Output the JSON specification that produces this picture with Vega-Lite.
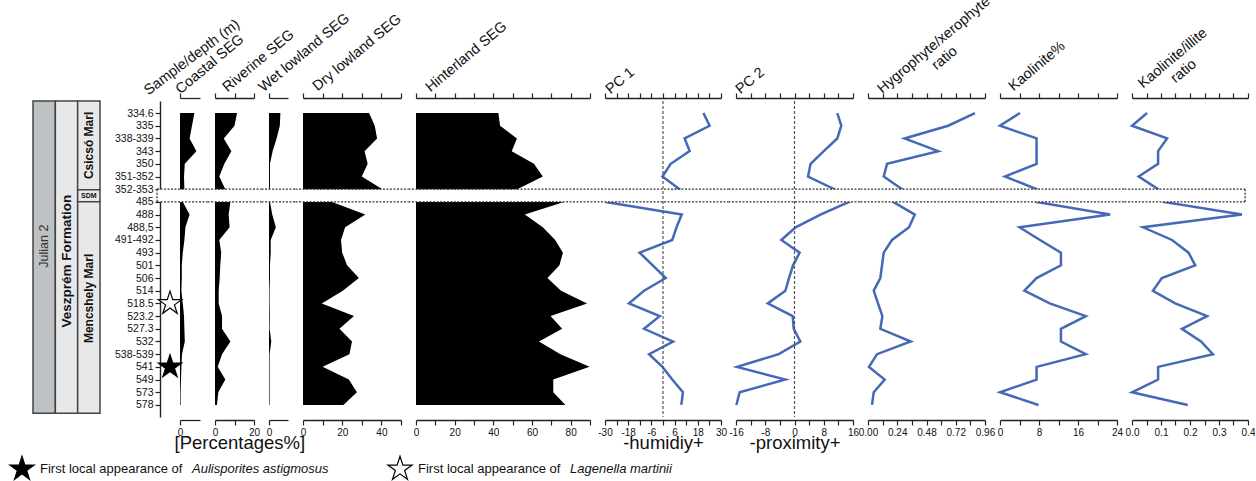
{
  "$schema": "https://vega.github.io/schema/vega-lite/v6.json",
  "padding": {"left": 7, "top": -7, "right": 0, "bottom": 0},
  "background": "white",
  "datasets": {
    "samples": [
      {"i": 0, "sample": "334.6", "coastal": 7.2, "riverine": 11.3, "wet": 6.0, "dry": 33.7, "hinterland": 42.6, "pc1": 20.9, "pc2": 11.7, "hygro": 0.878, "kaol": 4.1, "ki": 0.052},
      {"i": 1, "sample": "335", "coastal": 6.0, "riverine": 10.0, "wet": 5.7, "dry": 36.6, "hinterland": 43.5, "pc1": 24.1, "pc2": 12.8, "hygro": 0.658, "kaol": 0.0, "ki": 0.0},
      {"i": 2, "sample": "338-339", "coastal": 4.8, "riverine": 4.5, "wet": 4.0, "dry": 37.8, "hinterland": 52.2, "pc1": 11.2, "pc2": 11.7, "hygro": 0.30, "kaol": 7.5, "ki": 0.121},
      {"i": 3, "sample": "343", "coastal": 8.2, "riverine": 8.4, "wet": 1.9, "dry": 31.4, "hinterland": 49.5, "pc1": 13.8, "pc2": 8.0, "hygro": 0.576, "kaol": 7.5, "ki": 0.09},
      {"i": 4, "sample": "350", "coastal": 2.4, "riverine": 4.8, "wet": 0.5, "dry": 33.0, "hinterland": 61.0, "pc1": 4.0, "pc2": 4.4, "hygro": 0.156, "kaol": 7.5, "ki": 0.09},
      {"i": 5, "sample": "351-352", "coastal": 2.0, "riverine": 2.2, "wet": 0.5, "dry": 30.0, "hinterland": 65.6, "pc1": -0.3, "pc2": 3.7, "hygro": 0.129, "kaol": 1.0, "ki": 0.023},
      {"i": 6, "sample": "352-353", "coastal": 2.2, "riverine": 5.3, "wet": 0.5, "dry": 40.5, "hinterland": 52.4, "pc1": 8.6, "pc2": 10.9, "hygro": 0.28, "kaol": 7.5, "ki": 0.09},
      {"i": 7, "sample": "485", "coastal": 1.4, "riverine": 7.9, "wet": 0.5, "dry": 14.8, "hinterland": 76.5, "pc1": -29.7, "pc2": 14.9, "hygro": 0.206, "kaol": 7.5, "ki": 0.109},
      {"i": 8, "sample": "488", "coastal": 4.8, "riverine": 7.0, "wet": 1.7, "dry": 31.8, "hinterland": 56.3, "pc1": 9.7, "pc2": 7.1, "hygro": 0.384, "kaol": 22.6, "ki": 0.379},
      {"i": 9, "sample": "488,5", "coastal": 2.7, "riverine": 7.5, "wet": 3.6, "dry": 21.5, "hinterland": 65.6, "pc1": 7.0, "pc2": 0.3, "hygro": 0.337, "kaol": 4.0, "ki": 0.038},
      {"i": 10, "sample": "491-492", "coastal": 2.2, "riverine": 2.2, "wet": 0.9, "dry": 19.4, "hinterland": 72.0, "pc1": 4.8, "pc2": -3.6, "hygro": 0.197, "kaol": 8.2, "ki": 0.138},
      {"i": 11, "sample": "493", "coastal": 1.4, "riverine": 3.2, "wet": 0.9, "dry": 20.0, "hinterland": 76.0, "pc1": -12.1, "pc2": 1.4, "hygro": 0.129, "kaol": 12.5, "ki": 0.195},
      {"i": 12, "sample": "501", "coastal": 0.9, "riverine": 2.7, "wet": 0.5, "dry": 22.5, "hinterland": 74.2, "pc1": -5.3, "pc2": -0.4, "hygro": 0.115, "kaol": 12.5, "ki": 0.218},
      {"i": 13, "sample": "506", "coastal": 0.9, "riverine": 2.4, "wet": 0.5, "dry": 28.5, "hinterland": 68.0, "pc1": 1.4, "pc2": -1.5, "hygro": 0.101, "kaol": 7.5, "ki": 0.103},
      {"i": 14, "sample": "514", "coastal": 0.7, "riverine": 1.9, "wet": 0.3, "dry": 20.3, "hinterland": 75.0, "pc1": -9.8, "pc2": -2.5, "hygro": 0.047, "kaol": 5.0, "ki": 0.072},
      {"i": 15, "sample": "518.5", "coastal": 1.4, "riverine": 1.9, "wet": 0.3, "dry": 9.6, "hinterland": 88.5, "pc1": -17.6, "pc2": -7.3, "hygro": 0.082, "kaol": 10.2, "ki": 0.149},
      {"i": 16, "sample": "523.2", "coastal": 2.0, "riverine": 3.6, "wet": 0.4, "dry": 26.0, "hinterland": 69.6, "pc1": -1.7, "pc2": -0.5, "hygro": 0.118, "kaol": 17.6, "ki": 0.259},
      {"i": 17, "sample": "527.3", "coastal": 2.2, "riverine": 3.6, "wet": 0.3, "dry": 18.6, "hinterland": 75.6, "pc1": -9.8, "pc2": -0.2, "hygro": 0.101, "kaol": 12.5, "ki": 0.172},
      {"i": 18, "sample": "532", "coastal": 2.4, "riverine": 7.9, "wet": 1.2, "dry": 25.0, "hinterland": 63.6, "pc1": 5.2, "pc2": 1.6, "hygro": 0.351, "kaol": 12.5, "ki": 0.238},
      {"i": 19, "sample": "538-539", "coastal": 1.0, "riverine": 3.6, "wet": 0.3, "dry": 23.7, "hinterland": 74.7, "pc1": -7.2, "pc2": -4.3, "hygro": 0.074, "kaol": 17.6, "ki": 0.279},
      {"i": 20, "sample": "541", "coastal": 0.7, "riverine": 1.4, "wet": 0.3, "dry": 10.0, "hinterland": 89.8, "pc1": -0.3, "pc2": -15.7, "hygro": 0.008, "kaol": 7.5, "ki": 0.09},
      {"i": 21, "sample": "549", "coastal": 0.5, "riverine": 5.3, "wet": 0.3, "dry": 23.4, "hinterland": 71.0, "pc1": 4.8, "pc2": -2.5, "hygro": 0.137, "kaol": 7.5, "ki": 0.09},
      {"i": 22, "sample": "573", "coastal": 0.3, "riverine": 1.7, "wet": 0.3, "dry": 27.5, "hinterland": 71.0, "pc1": 10.3, "pc2": -15.0, "hygro": 0.047, "kaol": 0.0, "ki": 0.0},
      {"i": 23, "sample": "578", "coastal": 0.3, "riverine": 1.0, "wet": 0.3, "dry": 20.6, "hinterland": 77.3, "pc1": 9.5, "pc2": -15.9, "hygro": 0.033, "kaol": 7.9, "ki": 0.192}
    ],
    "strat": [
      {"level": "Stage", "name": "Julian 2", "top": -0.95, "bottom": 23.65},
      {"level": "Formation", "name": "Veszprém Formation", "top": -0.95, "bottom": 23.65},
      {"level": "Member", "name": "Csicsó Marl", "top": -0.95, "bottom": 6.05},
      {"level": "Member", "name": "SDM", "top": 6.05, "bottom": 6.98},
      {"level": "Member", "name": "Mencshely Marl", "top": 6.98, "bottom": 23.65}
    ],
    "stars": [
      {"sample": "518.5", "i": 15, "symbol": "open"},
      {"sample": "541", "i": 20, "symbol": "filled"}
    ],
    "gap": [{"from": "352-353", "to": "485"}],
    "legend": [
      {"symbol": "filled", "label": "First local appearance of", "species": "Aulisporites astigmosus"},
      {"symbol": "open", "label": "First local appearance of", "species": "Lagenella martinii"}
    ]
  },
  "data": {"name": "samples"},
  "vconcat": [
    {
      "bounds": "flush",
      "spacing": 15,
      "hconcat": [
        {
          "width": 112, "height": 316,
          "data": {"name": "strat"},
          "layer": [
            {
              "mark": {"type": "rect", "stroke": "#444", "strokeWidth": 1.5},
              "encoding": {
                "x": {"field": "level", "type": "nominal", "sort": ["Stage", "Formation", "Member"], "scale": {"type": "band", "range": [0, 67], "paddingInner": 0, "paddingOuter": 0}, "axis": null},
                "y": {"field": "top", "type": "quantitative", "scale": {"domain": [-0.95, 23.95], "reverse": true, "nice": false, "zero": false}, "axis": {"domain": false, "ticks": false, "labels": false, "title": "Veszprém-1 section", "titleFontSize": 17, "titlePadding": 8, "titleColor": "#111"}},
                "y2": {"field": "bottom"},
                "fill": {"field": "level", "type": "nominal", "scale": {"domain": ["Stage", "Formation", "Member"], "range": ["#bfc2c5", "#e7e8e9", "#e7e8e9"]}, "legend": null}
              }
            },
            {
              "transform": [{"filter": "datum.level === 'Stage'"}, {"calculate": "(datum.top + datum.bottom) / 2", "as": "mid"}],
              "mark": {"type": "text", "angle": 270, "fontSize": 12.5, "color": "#333", "dx": 11},
              "encoding": {
                "x": {"field": "level", "type": "nominal", "sort": ["Stage", "Formation", "Member"], "scale": {"type": "band", "range": [0, 67], "paddingInner": 0, "paddingOuter": 0}, "axis": null},
                "y": {"field": "mid", "type": "quantitative", "scale": {"domain": [-0.95, 23.95], "reverse": true, "nice": false, "zero": false}, "axis": null},
                "text": {"field": "name"}
              }
            },
            {
              "transform": [{"filter": "datum.level === 'Formation'"}, {"calculate": "(datum.top + datum.bottom) / 2", "as": "mid"}],
              "mark": {"type": "text", "angle": 270, "fontSize": 13.5, "fontWeight": "bold", "color": "#111", "dx": -4},
              "encoding": {
                "x": {"field": "level", "type": "nominal", "sort": ["Stage", "Formation", "Member"], "scale": {"type": "band", "range": [0, 67], "paddingInner": 0, "paddingOuter": 0}, "axis": null},
                "y": {"field": "mid", "type": "quantitative", "scale": {"domain": [-0.95, 23.95], "reverse": true, "nice": false, "zero": false}, "axis": null},
                "text": {"field": "name"}
              }
            },
            {
              "transform": [{"filter": "datum.name === 'Csicsó Marl'"}, {"calculate": "(datum.top + datum.bottom) / 2", "as": "mid"}],
              "mark": {"type": "text", "angle": 270, "fontSize": 12, "fontWeight": "bold", "color": "#111", "dx": 0},
              "encoding": {
                "x": {"field": "level", "type": "nominal", "sort": ["Stage", "Formation", "Member"], "scale": {"type": "band", "range": [0, 67], "paddingInner": 0, "paddingOuter": 0}, "axis": null},
                "y": {"field": "mid", "type": "quantitative", "scale": {"domain": [-0.95, 23.95], "reverse": true, "nice": false, "zero": false}, "axis": null},
                "text": {"field": "name"}
              }
            },
            {
              "transform": [{"filter": "datum.name === 'Mencshely Marl'"}, {"calculate": "(datum.top + datum.bottom) / 2", "as": "mid"}],
              "mark": {"type": "text", "angle": 270, "fontSize": 12, "fontWeight": "bold", "color": "#111", "dx": 9},
              "encoding": {
                "x": {"field": "level", "type": "nominal", "sort": ["Stage", "Formation", "Member"], "scale": {"type": "band", "range": [0, 67], "paddingInner": 0, "paddingOuter": 0}, "axis": null},
                "y": {"field": "mid", "type": "quantitative", "scale": {"domain": [-0.95, 23.95], "reverse": true, "nice": false, "zero": false}, "axis": null},
                "text": {"field": "name"}
              }
            },
            {
              "transform": [{"filter": "datum.name === 'SDM'"}, {"calculate": "(datum.top + datum.bottom) / 2", "as": "mid"}],
              "mark": {"type": "text", "fontSize": 7, "fontWeight": "bold", "color": "#111", "baseline": "middle"},
              "encoding": {
                "x": {"field": "level", "type": "nominal", "sort": ["Stage", "Formation", "Member"], "scale": {"type": "band", "range": [0, 67], "paddingInner": 0, "paddingOuter": 0}, "axis": null},
                "y": {"field": "mid", "type": "quantitative", "scale": {"domain": [-0.95, 23.95], "reverse": true, "nice": false, "zero": false}, "axis": null},
                "text": {"field": "name"}
              }
            }
          ]
        },
        {
          "width": 5, "height": 316,
          "mark": {"type": "tick", "opacity": 0},
          "encoding": {
            "y": {"field": "sample", "type": "ordinal", "sort": null, "scale": {"type": "point", "padding": 0.95}, "axis": {"title": null, "labelFontSize": 10.5, "labelPadding": 2, "tickSize": 5, "domainWidth": 1.4}},
            "x": {"datum": 0, "type": "quantitative", "scale": {"domain": [0, 1]}, "axis": {"orient": "top", "offset": 3, "domain": false, "ticks": false, "labels": false, "title": "Sample/depth (m)", "titleAngle": -37, "titleAlign": "left", "titleBaseline": "alphabetic", "titleFontSize": 14.5, "titleLimit": 400, "titleX": -12, "titleY": -3}}
          }
        },
        {
          "width": 20, "height": 316,
          "layer": [
            {"mark": {"type": "area", "orient": "horizontal", "color": "#000"},
             "encoding": {
               "y": {"field": "i", "type": "quantitative", "scale": {"domain": [-0.95, 23.95], "reverse": true, "nice": false, "zero": false}, "axis": {"labels": false, "ticks": false, "title": null, "domainWidth": 1.4}},
               "x": {"field": "coastal", "type": "quantitative", "scale": {"domain": [0, 10], "nice": false, "zero": false}, "axis": {"orient": "bottom", "offset": 3, "values": [0], "labelExpr": "'' + datum.value", "title": "[Percentages%]", "titleFontSize": 18.5, "titleX": -6, "titleY": 28, "titleAlign": "left", "titleBaseline": "alphabetic", "titleLimit": 400}}
             }},
            {"data": {"name": "gap"}, "mark": {"type": "rect", "fill": "white"},
             "encoding": {
               "y": {"datum": 6, "type": "quantitative", "scale": {"domain": [-0.95, 23.95], "reverse": true, "nice": false, "zero": false}, "axis": null},
               "y2": {"datum": 7},
               "x": {"datum": -11.5, "type": "quantitative", "scale": {"domain": [0, 10], "nice": false, "zero": false}, "axis": {"orient": "top", "offset": 3, "values": [0], "labels": false, "title": "Coastal SEG", "titleAngle": -40, "titleAlign": "left", "titleBaseline": "alphabetic", "titleFontSize": 14.5, "titleLimit": 400, "titleX": 0, "titleY": -4}},
               "x2": {"datum": 13.75}
             }},
            {"data": {"name": "gap"}, "mark": {"type": "rule", "color": "#333", "strokeWidth": 1.3, "strokeDash": [2, 1.5]},
             "encoding": {
               "y": {"datum": 6, "type": "quantitative", "scale": {"domain": [-0.95, 23.95], "reverse": true, "nice": false, "zero": false}, "axis": null},
               "x": {"datum": -11.5, "type": "quantitative", "scale": {"domain": [0, 10], "nice": false, "zero": false}, "axis": null},
               "x2": {"datum": 13.75}
             }},
            {"data": {"name": "gap"}, "mark": {"type": "rule", "color": "#333", "strokeWidth": 1.3, "strokeDash": [2, 1.5]},
             "encoding": {
               "y": {"datum": 7, "type": "quantitative", "scale": {"domain": [-0.95, 23.95], "reverse": true, "nice": false, "zero": false}, "axis": null},
               "x": {"datum": -11.5, "type": "quantitative", "scale": {"domain": [0, 10], "nice": false, "zero": false}, "axis": null},
               "x2": {"datum": 13.75}
             }},
            {"data": {"name": "gap"}, "mark": {"type": "rule", "color": "#333", "strokeWidth": 1.3, "strokeDash": [2, 1.5]},
             "encoding": {
               "x": {"datum": -11.5, "type": "quantitative", "scale": {"domain": [0, 10], "nice": false, "zero": false}, "axis": null},
               "y": {"datum": 6, "type": "quantitative", "scale": {"domain": [-0.95, 23.95], "reverse": true, "nice": false, "zero": false}, "axis": null},
               "y2": {"datum": 7}
             }},
            {"data": {"name": "stars"},
             "transform": [{"filter": "datum.symbol === 'filled'"}],
             "mark": {"type": "point", "shape": "M0,-1L0.2245,-0.309L0.951,-0.309L0.363,0.118L0.588,0.809L0,0.382L-0.588,0.809L-0.363,0.118L-0.951,-0.309L-0.2245,-0.309Z", "size": 600, "stroke": "#000", "strokeWidth": 1.2, "fill": "#000", "filled": true, "opacity": 1, "fillOpacity": 1, "strokeOpacity": 1},
             "encoding": {
               "x": {"datum": -5, "type": "quantitative", "scale": {"domain": [0, 10], "nice": false, "zero": false}, "axis": null},
               "y": {"field": "i", "type": "quantitative", "scale": {"domain": [-0.95, 23.95], "reverse": true, "nice": false, "zero": false}, "axis": null}
             }},
            {"data": {"name": "stars"},
             "transform": [{"filter": "datum.symbol === 'open'"}],
             "mark": {"type": "point", "shape": "M0,-1L0.2245,-0.309L0.951,-0.309L0.363,0.118L0.588,0.809L0,0.382L-0.588,0.809L-0.363,0.118L-0.951,-0.309L-0.2245,-0.309Z", "size": 600, "stroke": "#000", "strokeWidth": 1.2, "fill": "#fff", "filled": true, "opacity": 1, "fillOpacity": 1, "strokeOpacity": 1},
             "encoding": {
               "x": {"datum": -5, "type": "quantitative", "scale": {"domain": [0, 10], "nice": false, "zero": false}, "axis": null},
               "y": {"field": "i", "type": "quantitative", "scale": {"domain": [-0.95, 23.95], "reverse": true, "nice": false, "zero": false}, "axis": null}
             }}
          ],
          "resolve": {"axis": {"x": "independent"}}
        },
        {
          "width": 39, "height": 316,
          "layer": [
            {"mark": {"type": "area", "orient": "horizontal", "color": "#000"},
             "encoding": {
               "y": {"field": "i", "type": "quantitative", "scale": {"domain": [-0.95, 23.95], "reverse": true, "nice": false, "zero": false}, "axis": {"labels": false, "ticks": false, "title": null, "domainWidth": 1.4}},
               "x": {"field": "riverine", "type": "quantitative", "scale": {"domain": [0, 20], "nice": false, "zero": false}, "axis": {"orient": "bottom", "offset": 3, "values": [0, 10, 20], "labelExpr": "datum.value % 20 === 0 ? '' + datum.value : ''", "title": null}}
             }},
            {"data": {"name": "gap"}, "mark": {"type": "rect", "fill": "white"},
             "encoding": {
               "y": {"datum": 6, "type": "quantitative", "scale": {"domain": [-0.95, 23.95], "reverse": true, "nice": false, "zero": false}, "axis": null},
               "y2": {"datum": 7},
               "x": {"datum": -3.85, "type": "quantitative", "scale": {"domain": [0, 20], "nice": false, "zero": false}, "axis": {"orient": "top", "offset": 3, "values": [0, 10, 20], "labels": false, "title": "Riverine SEG", "titleAngle": -40, "titleAlign": "left", "titleBaseline": "alphabetic", "titleFontSize": 14.5, "titleLimit": 400, "titleX": 12, "titleY": -6}},
               "x2": {"datum": 23.85}
             }},
            {"data": {"name": "gap"}, "mark": {"type": "rule", "color": "#333", "strokeWidth": 1.3, "strokeDash": [2, 1.5]},
             "encoding": {
               "y": {"datum": 6, "type": "quantitative", "scale": {"domain": [-0.95, 23.95], "reverse": true, "nice": false, "zero": false}, "axis": null},
               "x": {"datum": -3.85, "type": "quantitative", "scale": {"domain": [0, 20], "nice": false, "zero": false}, "axis": null},
               "x2": {"datum": 23.85}
             }},
            {"data": {"name": "gap"}, "mark": {"type": "rule", "color": "#333", "strokeWidth": 1.3, "strokeDash": [2, 1.5]},
             "encoding": {
               "y": {"datum": 7, "type": "quantitative", "scale": {"domain": [-0.95, 23.95], "reverse": true, "nice": false, "zero": false}, "axis": null},
               "x": {"datum": -3.85, "type": "quantitative", "scale": {"domain": [0, 20], "nice": false, "zero": false}, "axis": null},
               "x2": {"datum": 23.85}
             }}
          ],
          "resolve": {"axis": {"x": "independent"}}
        },
        {
          "width": 19, "height": 316,
          "layer": [
            {"mark": {"type": "area", "orient": "horizontal", "color": "#000"},
             "encoding": {
               "y": {"field": "i", "type": "quantitative", "scale": {"domain": [-0.95, 23.95], "reverse": true, "nice": false, "zero": false}, "axis": {"labels": false, "ticks": false, "title": null, "domainWidth": 1.4}},
               "x": {"field": "wet", "type": "quantitative", "scale": {"domain": [0, 10], "nice": false, "zero": false}, "axis": {"orient": "bottom", "offset": 3, "values": [0], "labelExpr": "'' + datum.value", "title": null}}
             }},
            {"data": {"name": "gap"}, "mark": {"type": "rect", "fill": "white"},
             "encoding": {
               "y": {"datum": 6, "type": "quantitative", "scale": {"domain": [-0.95, 23.95], "reverse": true, "nice": false, "zero": false}, "axis": null},
               "y2": {"datum": 7},
               "x": {"datum": -3.95, "type": "quantitative", "scale": {"domain": [0, 10], "nice": false, "zero": false}, "axis": {"orient": "top", "offset": 3, "values": [0], "labels": false, "title": "Wet lowland SEG", "titleAngle": -40, "titleAlign": "left", "titleBaseline": "alphabetic", "titleFontSize": 14.5, "titleLimit": 400, "titleX": -6, "titleY": -6}},
               "x2": {"datum": 13.95}
             }},
            {"data": {"name": "gap"}, "mark": {"type": "rule", "color": "#333", "strokeWidth": 1.3, "strokeDash": [2, 1.5]},
             "encoding": {
               "y": {"datum": 6, "type": "quantitative", "scale": {"domain": [-0.95, 23.95], "reverse": true, "nice": false, "zero": false}, "axis": null},
               "x": {"datum": -3.95, "type": "quantitative", "scale": {"domain": [0, 10], "nice": false, "zero": false}, "axis": null},
               "x2": {"datum": 13.95}
             }},
            {"data": {"name": "gap"}, "mark": {"type": "rule", "color": "#333", "strokeWidth": 1.3, "strokeDash": [2, 1.5]},
             "encoding": {
               "y": {"datum": 7, "type": "quantitative", "scale": {"domain": [-0.95, 23.95], "reverse": true, "nice": false, "zero": false}, "axis": null},
               "x": {"datum": -3.95, "type": "quantitative", "scale": {"domain": [0, 10], "nice": false, "zero": false}, "axis": null},
               "x2": {"datum": 13.95}
             }}
          ],
          "resolve": {"axis": {"x": "independent"}}
        },
        {
          "width": 98, "height": 316,
          "layer": [
            {"mark": {"type": "area", "orient": "horizontal", "color": "#000"},
             "encoding": {
               "y": {"field": "i", "type": "quantitative", "scale": {"domain": [-0.95, 23.95], "reverse": true, "nice": false, "zero": false}, "axis": {"labels": false, "ticks": false, "title": null, "domainWidth": 1.4}},
               "x": {"field": "dry", "type": "quantitative", "scale": {"domain": [0, 50], "nice": false, "zero": false}, "axis": {"orient": "bottom", "offset": 3, "values": [0, 10, 20, 30, 40, 50], "labelExpr": "datum.value % 20 === 0 ? '' + datum.value : ''", "title": null}}
             }},
            {"data": {"name": "gap"}, "mark": {"type": "rect", "fill": "white"},
             "encoding": {
               "y": {"datum": 6, "type": "quantitative", "scale": {"domain": [-0.95, 23.95], "reverse": true, "nice": false, "zero": false}, "axis": null},
               "y2": {"datum": 7},
               "x": {"datum": -3.83, "type": "quantitative", "scale": {"domain": [0, 50], "nice": false, "zero": false}, "axis": {"orient": "top", "offset": 3, "values": [0, 10, 20, 30, 40, 50], "labels": false, "title": "Dry lowland SEG", "titleAngle": -40, "titleAlign": "left", "titleBaseline": "alphabetic", "titleFontSize": 14.5, "titleLimit": 400, "titleX": 14, "titleY": -7}},
               "x2": {"datum": 53.83}
             }},
            {"data": {"name": "gap"}, "mark": {"type": "rule", "color": "#333", "strokeWidth": 1.3, "strokeDash": [2, 1.5]},
             "encoding": {
               "y": {"datum": 6, "type": "quantitative", "scale": {"domain": [-0.95, 23.95], "reverse": true, "nice": false, "zero": false}, "axis": null},
               "x": {"datum": -3.83, "type": "quantitative", "scale": {"domain": [0, 50], "nice": false, "zero": false}, "axis": null},
               "x2": {"datum": 53.83}
             }},
            {"data": {"name": "gap"}, "mark": {"type": "rule", "color": "#333", "strokeWidth": 1.3, "strokeDash": [2, 1.5]},
             "encoding": {
               "y": {"datum": 7, "type": "quantitative", "scale": {"domain": [-0.95, 23.95], "reverse": true, "nice": false, "zero": false}, "axis": null},
               "x": {"datum": -3.83, "type": "quantitative", "scale": {"domain": [0, 50], "nice": false, "zero": false}, "axis": null},
               "x2": {"datum": 53.83}
             }}
          ],
          "resolve": {"axis": {"x": "independent"}}
        },
        {
          "width": 174, "height": 316,
          "layer": [
            {"mark": {"type": "area", "orient": "horizontal", "color": "#000"},
             "encoding": {
               "y": {"field": "i", "type": "quantitative", "scale": {"domain": [-0.95, 23.95], "reverse": true, "nice": false, "zero": false}, "axis": {"labels": false, "ticks": false, "title": null, "domainWidth": 1.4}},
               "x": {"field": "hinterland", "type": "quantitative", "scale": {"domain": [0, 90], "nice": false, "zero": false}, "axis": {"orient": "bottom", "offset": 3, "values": [0, 10, 20, 30, 40, 50, 60, 70, 80, 90], "labelExpr": "datum.value % 20 === 0 ? '' + datum.value : ''", "title": null}}
             }},
            {"data": {"name": "gap"}, "mark": {"type": "rect", "fill": "white"},
             "encoding": {
               "y": {"datum": 6, "type": "quantitative", "scale": {"domain": [-0.95, 23.95], "reverse": true, "nice": false, "zero": false}, "axis": null},
               "y2": {"datum": 7},
               "x": {"datum": -3.88, "type": "quantitative", "scale": {"domain": [0, 90], "nice": false, "zero": false}, "axis": {"orient": "top", "offset": 3, "values": [0, 10, 20, 30, 40, 50, 60, 70, 80, 90], "labels": false, "title": "Hinterland SEG", "titleAngle": -40, "titleAlign": "left", "titleBaseline": "alphabetic", "titleFontSize": 14.5, "titleLimit": 400, "titleX": 14, "titleY": -6}},
               "x2": {"datum": 93.88}
             }},
            {"data": {"name": "gap"}, "mark": {"type": "rule", "color": "#333", "strokeWidth": 1.3, "strokeDash": [2, 1.5]},
             "encoding": {
               "y": {"datum": 6, "type": "quantitative", "scale": {"domain": [-0.95, 23.95], "reverse": true, "nice": false, "zero": false}, "axis": null},
               "x": {"datum": -3.88, "type": "quantitative", "scale": {"domain": [0, 90], "nice": false, "zero": false}, "axis": null},
               "x2": {"datum": 93.88}
             }},
            {"data": {"name": "gap"}, "mark": {"type": "rule", "color": "#333", "strokeWidth": 1.3, "strokeDash": [2, 1.5]},
             "encoding": {
               "y": {"datum": 7, "type": "quantitative", "scale": {"domain": [-0.95, 23.95], "reverse": true, "nice": false, "zero": false}, "axis": null},
               "x": {"datum": -3.88, "type": "quantitative", "scale": {"domain": [0, 90], "nice": false, "zero": false}, "axis": null},
               "x2": {"datum": 93.88}
             }}
          ],
          "resolve": {"axis": {"x": "independent"}}
        },
        {
          "width": 116, "height": 316,
          "layer": [
            {"mark": {"type": "line", "color": "#4569b7", "strokeWidth": 2.5},
             "encoding": {
               "y": {"field": "i", "type": "quantitative", "scale": {"domain": [-0.95, 23.95], "reverse": true, "nice": false, "zero": false}, "axis": {"labels": false, "ticks": false, "title": null, "domainWidth": 1.4}},
               "x": {"field": "pc1", "type": "quantitative", "scale": {"domain": [-30, 30], "nice": false, "zero": false}, "axis": {"orient": "bottom", "offset": 3, "values": [-30, -24, -18, -12, -6, 0, 6, 12, 18, 24, 30], "labelExpr": "(datum.value + 30) % 12 === 0 ? '' + datum.value : ''", "title": "-humidiy+", "titleFontSize": 18.5, "titleX": 58, "titleY": 28, "titleAlign": "center", "titleBaseline": "alphabetic", "titleLimit": 400}},
               "order": {"field": "i", "type": "quantitative"}
             }},
            {"data": {"name": "gap"}, "mark": {"type": "rect", "fill": "white"},
             "encoding": {
               "y": {"datum": 6, "type": "quantitative", "scale": {"domain": [-0.95, 23.95], "reverse": true, "nice": false, "zero": false}, "axis": null},
               "y2": {"datum": 7},
               "x": {"datum": -33.88, "type": "quantitative", "scale": {"domain": [-30, 30], "nice": false, "zero": false}, "axis": {"orient": "top", "offset": 3, "values": [-30, -24, -18, -12, -6, 0, 6, 12, 18, 24, 30], "labels": false, "title": "PC 1", "titleAngle": -40, "titleAlign": "left", "titleBaseline": "alphabetic", "titleFontSize": 14.5, "titleLimit": 400, "titleX": 5, "titleY": -4}},
               "x2": {"datum": 33.88}
             }},
            {"data": {"name": "gap"}, "mark": {"type": "rule", "color": "#333", "strokeWidth": 1.3, "strokeDash": [2, 1.5]},
             "encoding": {
               "y": {"datum": 6, "type": "quantitative", "scale": {"domain": [-0.95, 23.95], "reverse": true, "nice": false, "zero": false}, "axis": null},
               "x": {"datum": -33.88, "type": "quantitative", "scale": {"domain": [-30, 30], "nice": false, "zero": false}, "axis": null},
               "x2": {"datum": 33.88}
             }},
            {"data": {"name": "gap"}, "mark": {"type": "rule", "color": "#333", "strokeWidth": 1.3, "strokeDash": [2, 1.5]},
             "encoding": {
               "y": {"datum": 7, "type": "quantitative", "scale": {"domain": [-0.95, 23.95], "reverse": true, "nice": false, "zero": false}, "axis": null},
               "x": {"datum": -33.88, "type": "quantitative", "scale": {"domain": [-30, 30], "nice": false, "zero": false}, "axis": null},
               "x2": {"datum": 33.88}
             }},
            {"data": {"name": "gap"}, "mark": {"type": "rule", "color": "#555", "strokeWidth": 1.2, "strokeDash": [3, 2]},
             "encoding": {
               "x": {"datum": 0, "type": "quantitative", "scale": {"domain": [-30, 30], "nice": false, "zero": false}, "axis": null}
             }}
          ],
          "resolve": {"axis": {"x": "independent"}}
        },
        {
          "width": 117, "height": 316,
          "layer": [
            {"mark": {"type": "line", "color": "#4569b7", "strokeWidth": 2.5},
             "encoding": {
               "y": {"field": "i", "type": "quantitative", "scale": {"domain": [-0.95, 23.95], "reverse": true, "nice": false, "zero": false}, "axis": {"labels": false, "ticks": false, "title": null, "domainWidth": 1.4}},
               "x": {"field": "pc2", "type": "quantitative", "scale": {"domain": [-16, 16], "nice": false, "zero": false}, "axis": {"orient": "bottom", "offset": 3, "values": [-16, -12, -8, -4, 0, 4, 8, 12, 16], "labelExpr": "datum.value % 8 === 0 ? '' + datum.value : ''", "title": "-proximity+", "titleFontSize": 18.5, "titleX": 58.5, "titleY": 28, "titleAlign": "center", "titleBaseline": "alphabetic", "titleLimit": 400}},
               "order": {"field": "i", "type": "quantitative"}
             }},
            {"data": {"name": "gap"}, "mark": {"type": "rect", "fill": "white"},
             "encoding": {
               "y": {"datum": 6, "type": "quantitative", "scale": {"domain": [-0.95, 23.95], "reverse": true, "nice": false, "zero": false}, "axis": null},
               "y2": {"datum": 7},
               "x": {"datum": -18.05, "type": "quantitative", "scale": {"domain": [-16, 16], "nice": false, "zero": false}, "axis": {"orient": "top", "offset": 3, "values": [-16, -12, -8, -4, 0, 4, 8, 12, 16], "labels": false, "title": "PC 2", "titleAngle": -40, "titleAlign": "left", "titleBaseline": "alphabetic", "titleFontSize": 14.5, "titleLimit": 400, "titleX": 4, "titleY": -4}},
               "x2": {"datum": 18.05}
             }},
            {"data": {"name": "gap"}, "mark": {"type": "rule", "color": "#333", "strokeWidth": 1.3, "strokeDash": [2, 1.5]},
             "encoding": {
               "y": {"datum": 6, "type": "quantitative", "scale": {"domain": [-0.95, 23.95], "reverse": true, "nice": false, "zero": false}, "axis": null},
               "x": {"datum": -18.05, "type": "quantitative", "scale": {"domain": [-16, 16], "nice": false, "zero": false}, "axis": null},
               "x2": {"datum": 18.05}
             }},
            {"data": {"name": "gap"}, "mark": {"type": "rule", "color": "#333", "strokeWidth": 1.3, "strokeDash": [2, 1.5]},
             "encoding": {
               "y": {"datum": 7, "type": "quantitative", "scale": {"domain": [-0.95, 23.95], "reverse": true, "nice": false, "zero": false}, "axis": null},
               "x": {"datum": -18.05, "type": "quantitative", "scale": {"domain": [-16, 16], "nice": false, "zero": false}, "axis": null},
               "x2": {"datum": 18.05}
             }},
            {"data": {"name": "gap"}, "mark": {"type": "rule", "color": "#555", "strokeWidth": 1.2, "strokeDash": [3, 2]},
             "encoding": {
               "x": {"datum": 0, "type": "quantitative", "scale": {"domain": [-16, 16], "nice": false, "zero": false}, "axis": null}
             }}
          ],
          "resolve": {"axis": {"x": "independent"}}
        },
        {
          "width": 117, "height": 316,
          "layer": [
            {"mark": {"type": "line", "color": "#4569b7", "strokeWidth": 2.5},
             "encoding": {
               "y": {"field": "i", "type": "quantitative", "scale": {"domain": [-0.95, 23.95], "reverse": true, "nice": false, "zero": false}, "axis": {"labels": false, "ticks": false, "title": null, "domainWidth": 1.4}},
               "x": {"field": "hygro", "type": "quantitative", "scale": {"domain": [0, 0.96], "nice": false, "zero": false}, "axis": {"orient": "bottom", "offset": 3, "values": [0, 0.12, 0.24, 0.36, 0.48, 0.6, 0.72, 0.84, 0.96], "labelExpr": "round(datum.value / 0.12) % 2 === 0 ? format(datum.value, '.2f') : ''", "title": null}},
               "order": {"field": "i", "type": "quantitative"}
             }},
            {"data": {"name": "gap"}, "mark": {"type": "rect", "fill": "white"},
             "encoding": {
               "y": {"datum": 6, "type": "quantitative", "scale": {"domain": [-0.95, 23.95], "reverse": true, "nice": false, "zero": false}, "axis": null},
               "y2": {"datum": 7},
               "x": {"datum": -0.0615, "type": "quantitative", "scale": {"domain": [0, 0.96], "nice": false, "zero": false}, "axis": {"orient": "top", "offset": 3, "values": [0, 0.12, 0.24, 0.36, 0.48, 0.6, 0.72, 0.84, 0.96], "labels": false, "title": ["Hygrophyte/xerophyte", "ratio"], "titleAngle": -40, "titleAlign": "center", "titleBaseline": "alphabetic", "titleFontSize": 14.5, "titleLineHeight": 17, "titleLimit": 400, "titleX": 68, "titleY": -50}},
               "x2": {"datum": 1.0215}
             }},
            {"data": {"name": "gap"}, "mark": {"type": "rule", "color": "#333", "strokeWidth": 1.3, "strokeDash": [2, 1.5]},
             "encoding": {
               "y": {"datum": 6, "type": "quantitative", "scale": {"domain": [-0.95, 23.95], "reverse": true, "nice": false, "zero": false}, "axis": null},
               "x": {"datum": -0.0615, "type": "quantitative", "scale": {"domain": [0, 0.96], "nice": false, "zero": false}, "axis": null},
               "x2": {"datum": 1.0215}
             }},
            {"data": {"name": "gap"}, "mark": {"type": "rule", "color": "#333", "strokeWidth": 1.3, "strokeDash": [2, 1.5]},
             "encoding": {
               "y": {"datum": 7, "type": "quantitative", "scale": {"domain": [-0.95, 23.95], "reverse": true, "nice": false, "zero": false}, "axis": null},
               "x": {"datum": -0.0615, "type": "quantitative", "scale": {"domain": [0, 0.96], "nice": false, "zero": false}, "axis": null},
               "x2": {"datum": 1.0215}
             }}
          ],
          "resolve": {"axis": {"x": "independent"}}
        },
        {
          "width": 117, "height": 316,
          "layer": [
            {"mark": {"type": "line", "color": "#4569b7", "strokeWidth": 2.5},
             "encoding": {
               "y": {"field": "i", "type": "quantitative", "scale": {"domain": [-0.95, 23.95], "reverse": true, "nice": false, "zero": false}, "axis": {"labels": false, "ticks": false, "title": null, "domainWidth": 1.4}},
               "x": {"field": "kaol", "type": "quantitative", "scale": {"domain": [0, 24], "nice": false, "zero": false}, "axis": {"orient": "bottom", "offset": 3, "values": [0, 4, 8, 12, 16, 20, 24], "labelExpr": "datum.value % 8 === 0 ? '' + datum.value : ''", "title": null}},
               "order": {"field": "i", "type": "quantitative"}
             }},
            {"data": {"name": "gap"}, "mark": {"type": "rect", "fill": "white"},
             "encoding": {
               "y": {"datum": 6, "type": "quantitative", "scale": {"domain": [-0.95, 23.95], "reverse": true, "nice": false, "zero": false}, "axis": null},
               "y2": {"datum": 7},
               "x": {"datum": -1.54, "type": "quantitative", "scale": {"domain": [0, 24], "nice": false, "zero": false}, "axis": {"orient": "top", "offset": 3, "values": [0, 4, 8, 12, 16, 20, 24], "labels": false, "title": "Kaolinite%", "titleAngle": -40, "titleAlign": "left", "titleBaseline": "alphabetic", "titleFontSize": 14.5, "titleLimit": 400, "titleX": 13, "titleY": -7}},
               "x2": {"datum": 25.54}
             }},
            {"data": {"name": "gap"}, "mark": {"type": "rule", "color": "#333", "strokeWidth": 1.3, "strokeDash": [2, 1.5]},
             "encoding": {
               "y": {"datum": 6, "type": "quantitative", "scale": {"domain": [-0.95, 23.95], "reverse": true, "nice": false, "zero": false}, "axis": null},
               "x": {"datum": -1.54, "type": "quantitative", "scale": {"domain": [0, 24], "nice": false, "zero": false}, "axis": null},
               "x2": {"datum": 25.54}
             }},
            {"data": {"name": "gap"}, "mark": {"type": "rule", "color": "#333", "strokeWidth": 1.3, "strokeDash": [2, 1.5]},
             "encoding": {
               "y": {"datum": 7, "type": "quantitative", "scale": {"domain": [-0.95, 23.95], "reverse": true, "nice": false, "zero": false}, "axis": null},
               "x": {"datum": -1.54, "type": "quantitative", "scale": {"domain": [0, 24], "nice": false, "zero": false}, "axis": null},
               "x2": {"datum": 25.54}
             }}
          ],
          "resolve": {"axis": {"x": "independent"}}
        },
        {
          "width": 116, "height": 316,
          "layer": [
            {"mark": {"type": "line", "color": "#4569b7", "strokeWidth": 2.5},
             "encoding": {
               "y": {"field": "i", "type": "quantitative", "scale": {"domain": [-0.95, 23.95], "reverse": true, "nice": false, "zero": false}, "axis": {"labels": false, "ticks": false, "title": null, "domainWidth": 1.4}},
               "x": {"field": "ki", "type": "quantitative", "scale": {"domain": [0, 0.4], "nice": false, "zero": false}, "axis": {"orient": "bottom", "offset": 3, "values": [0, 0.05, 0.1, 0.15, 0.2, 0.25, 0.3, 0.35, 0.4], "labelExpr": "round(datum.value / 0.05) % 2 === 0 ? format(datum.value, '.1f') : ''", "title": null}},
               "order": {"field": "i", "type": "quantitative"}
             }},
            {"data": {"name": "gap"}, "mark": {"type": "rect", "fill": "white"},
             "encoding": {
               "y": {"datum": 6, "type": "quantitative", "scale": {"domain": [-0.95, 23.95], "reverse": true, "nice": false, "zero": false}, "axis": null},
               "y2": {"datum": 7},
               "x": {"datum": -0.0259, "type": "quantitative", "scale": {"domain": [0, 0.4], "nice": false, "zero": false}, "axis": {"orient": "top", "offset": 3, "values": [0, 0.05, 0.1, 0.15, 0.2, 0.25, 0.3, 0.35, 0.4], "labels": false, "title": ["Kaolinite/illite", "ratio"], "titleAngle": -40, "titleAlign": "center", "titleBaseline": "alphabetic", "titleFontSize": 14.5, "titleLineHeight": 17, "titleLimit": 400, "titleX": 43, "titleY": -37}},
               "x2": {"datum": 0.39}
             }},
            {"data": {"name": "gap"}, "mark": {"type": "rule", "color": "#333", "strokeWidth": 1.3, "strokeDash": [2, 1.5]},
             "encoding": {
               "y": {"datum": 6, "type": "quantitative", "scale": {"domain": [-0.95, 23.95], "reverse": true, "nice": false, "zero": false}, "axis": null},
               "x": {"datum": -0.0259, "type": "quantitative", "scale": {"domain": [0, 0.4], "nice": false, "zero": false}, "axis": null},
               "x2": {"datum": 0.39}
             }},
            {"data": {"name": "gap"}, "mark": {"type": "rule", "color": "#333", "strokeWidth": 1.3, "strokeDash": [2, 1.5]},
             "encoding": {
               "y": {"datum": 7, "type": "quantitative", "scale": {"domain": [-0.95, 23.95], "reverse": true, "nice": false, "zero": false}, "axis": null},
               "x": {"datum": -0.0259, "type": "quantitative", "scale": {"domain": [0, 0.4], "nice": false, "zero": false}, "axis": null},
               "x2": {"datum": 0.39}
             }},
            {"data": {"name": "gap"}, "mark": {"type": "rule", "color": "#333", "strokeWidth": 1.3, "strokeDash": [2, 1.5]},
             "encoding": {
               "x": {"datum": 0.39, "type": "quantitative", "scale": {"domain": [0, 0.4], "nice": false, "zero": false}, "axis": null},
               "y": {"datum": 6, "type": "quantitative", "scale": {"domain": [-0.95, 23.95], "reverse": true, "nice": false, "zero": false}, "axis": null},
               "y2": {"datum": 7}
             }}
          ],
          "resolve": {"axis": {"x": "independent"}}
        }
      ]
    },
    {
      "width": 600, "height": 20,
      "data": {"name": "legend"},
      "layer": [
        {"transform": [{"filter": "datum.symbol === 'filled'"}],
         "mark": {"type": "point", "shape": "M0,-1L0.2245,-0.309L0.951,-0.309L0.363,0.118L0.588,0.809L0,0.382L-0.588,0.809L-0.363,0.118L-0.951,-0.309L-0.2245,-0.309Z", "size": 650, "stroke": "#000", "strokeWidth": 1.2, "fill": "#000", "filled": true, "opacity": 1, "fillOpacity": 1},
         "encoding": {
           "x": {"field": "symbol", "type": "nominal", "scale": {"type": "point", "domain": ["filled", "open"], "range": [-11, 367], "padding": 0}, "axis": null}
         }},
        {"transform": [{"filter": "datum.symbol === 'open'"}],
         "mark": {"type": "point", "shape": "M0,-1L0.2245,-0.309L0.951,-0.309L0.363,0.118L0.588,0.809L0,0.382L-0.588,0.809L-0.363,0.118L-0.951,-0.309L-0.2245,-0.309Z", "size": 650, "stroke": "#000", "strokeWidth": 1.2, "fill": "#fff", "filled": true, "opacity": 1, "fillOpacity": 1},
         "encoding": {
           "x": {"field": "symbol", "type": "nominal", "scale": {"type": "point", "domain": ["filled", "open"], "range": [-11, 367], "padding": 0}, "axis": null}
         }},
        {"mark": {"type": "text", "align": "left", "baseline": "middle", "dx": 18, "fontSize": 13, "color": "#111"},
         "encoding": {
           "x": {"field": "symbol", "type": "nominal", "scale": {"type": "point", "domain": ["filled", "open"], "range": [-11, 367], "padding": 0}, "axis": null},
           "text": {"field": "label"}
         }},
        {"mark": {"type": "text", "align": "left", "baseline": "middle", "dx": 170, "fontSize": 13, "fontStyle": "italic", "color": "#111"},
         "encoding": {
           "x": {"field": "symbol", "type": "nominal", "scale": {"type": "point", "domain": ["filled", "open"], "range": [-11, 367], "padding": 0}, "axis": null},
           "text": {"field": "species"}
         }}
      ]
    }
  ],
  "spacing": 1,
  "bounds": "full",
  "config": {
    "view": {"stroke": null},
    "font": "Liberation Sans",
    "axis": {
      "domainColor": "#222", "domainWidth": 1.3, "tickColor": "#222", "tickWidth": 1.2, "tickSize": 5,
      "labelFont": "Liberation Sans", "labelFontSize": 10, "labelColor": "#111", "labelFlush": false, "labelOverlap": false, "labelPadding": 2,
      "titleFont": "Liberation Sans", "titleFontWeight": "normal", "titleColor": "#111", "grid": false
    }
  }
}
